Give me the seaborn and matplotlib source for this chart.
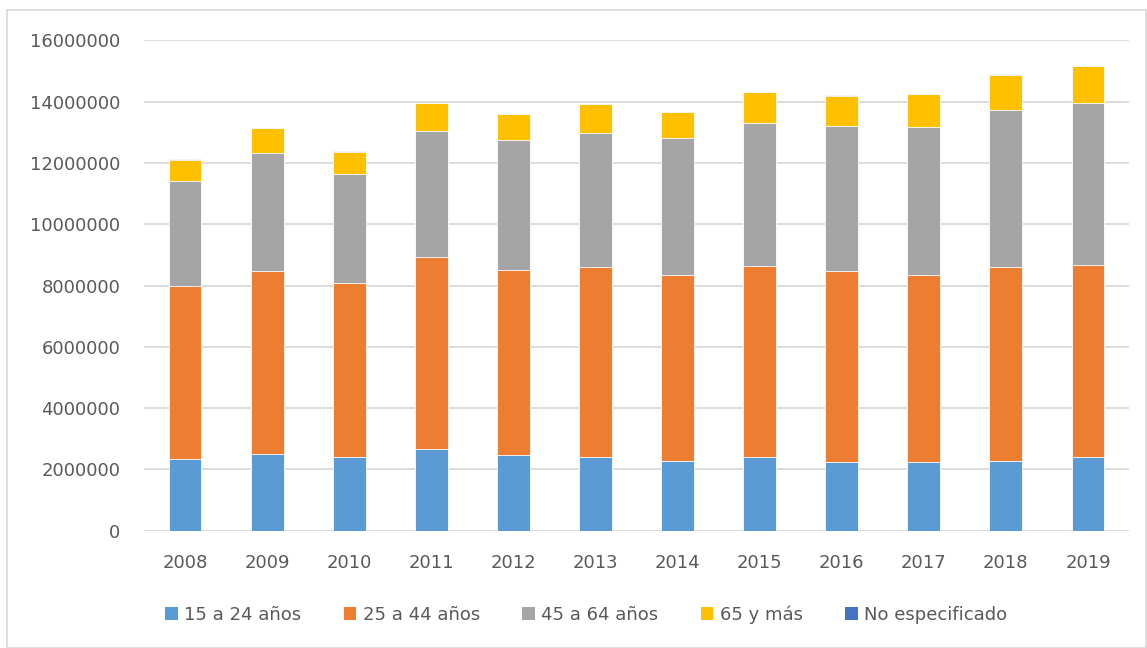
import matplotlib
matplotlib.use("Agg")
import matplotlib.pyplot as plt
import seaborn as sns
import numpy as np
import pandas as pd
from matplotlib.patches import Rectangle, Patch

years = ["2008", "2009", "2010", "2011", "2012", "2013",
         "2014", "2015", "2016", "2017", "2018", "2019"]
age_15_24 = [2330000, 2520000, 2400000, 2660000, 2470000, 2420000,
             2270000, 2420000, 2230000, 2230000, 2280000, 2410000]
age_25_44 = [5650000, 5950000, 5700000, 6260000, 6050000, 6190000,
             6090000, 6230000, 6260000, 6130000, 6340000, 6250000]
age_45_64 = [3420000, 3850000, 3550000, 4130000, 4240000, 4380000,
             4460000, 4650000, 4710000, 4810000, 5120000, 5310000]
age_65_mas = [700000, 810000, 710000, 900000, 830000, 930000,
              840000, 1010000, 990000, 1070000, 1120000, 1190000]
no_especificado = [20000, 20000, 20000, 20000, 20000, 20000,
                   20000, 20000, 20000, 20000, 30000, 20000]

series_names = ["15 a 24 años", "25 a 44 años", "45 a 64 años", "65 y más", "No especificado"]
series_vals = [age_15_24, age_25_44, age_45_64, age_65_mas, no_especificado]
colors = ["#5B9BD5", "#ED7D31", "#A5A5A5", "#FFC000", "#4472C4"]

sns.set_style("white")
plt.rcParams['font.family'] = ['DejaVu Sans']

fig = plt.figure(figsize=(11.47, 6.48), dpi=100)
ax = fig.add_axes([144/1147, (648-530.8)/648, (1129-144)/1147, 490.4/648])

cum = np.cumsum(np.array(series_vals, dtype=float), axis=0)
# draw from topmost cumulative to bottom so lower segments overlay
for i in range(len(series_names) - 1, -1, -1):
    df = pd.DataFrame({"year": years, "value": cum[i]})
    sns.barplot(data=df, x="year", y="value", color=colors[i], width=0.4,
                saturation=1, ax=ax, edgecolor="white", linewidth=0.6, zorder=3)

ax.set_ylim(0, 16000000)
ax.set_yticks(np.arange(0, 16000001, 2000000))
ax.set_yticklabels([str(v) for v in range(0, 16000001, 2000000)])
ax.yaxis.grid(True, color="#D9D9D9", linewidth=1.3, zorder=0)
ax.set_axisbelow(True)
for s in ax.spines.values():
    s.set_visible(False)
ax.tick_params(axis="both", length=0, labelsize=13, colors="#595959")
ax.tick_params(axis="y", pad=17)
ax.tick_params(axis="x", pad=17)
ax.set_xlabel("")
ax.set_ylabel("")

handles = [Patch(facecolor=c, edgecolor="none") for c in colors]
fig.legend(handles, series_names, loc="center", bbox_to_anchor=(0.511, 0.052),
           ncol=5, frameon=False, fontsize=13, handlelength=0.7, handleheight=0.7,
           handletextpad=0.35, columnspacing=2.35, labelcolor="#595959")

fig.patches.append(Rectangle((7/1147, 0.0), 1139/1147, (648-10)/648, transform=fig.transFigure,
                             fill=False, edgecolor="#D9D9D9", linewidth=1.2))

fig.savefig("out.png", dpi=100)
